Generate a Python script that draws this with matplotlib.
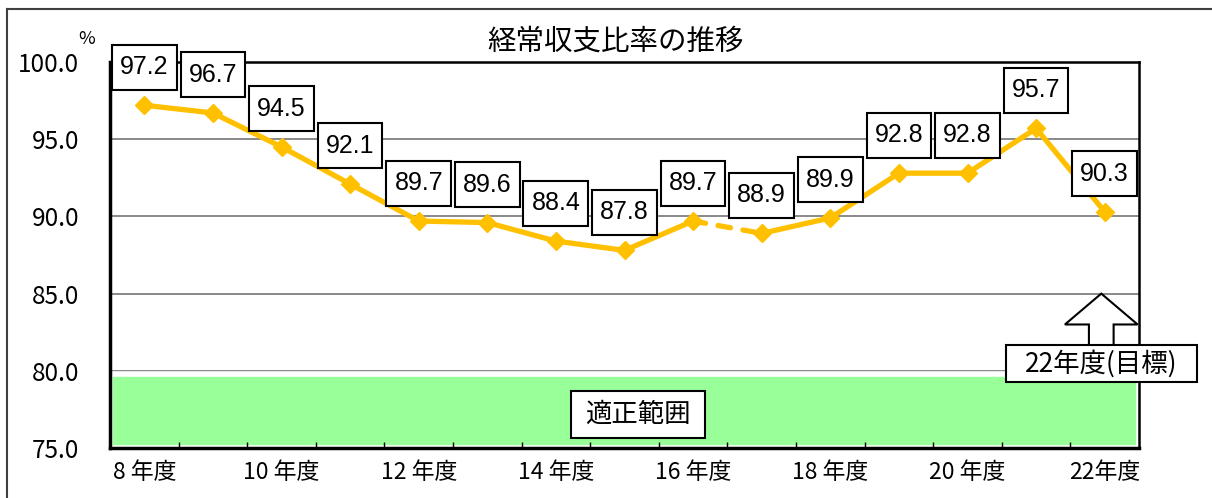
import matplotlib
matplotlib.use("Agg")
import matplotlib.pyplot as plt
from matplotlib.patches import Rectangle, Polygon
from matplotlib.lines import Line2D
from matplotlib.path import Path

plt.rcParams['font.family'] = ['Noto Sans CJK JP', 'DejaVu Sans']

# ---- data ----
years = ["8", "9", "10", "11", "12", "13", "14", "15", "16", "17", "18", "19", "20", "21", "22"]
ratio = [97.2, 96.7, 94.5, 92.1, 89.7, 89.6, 88.4, 87.8, 89.7, 88.9, 89.9, 92.8, 92.8, 95.7, 90.3]
tick_labels = ["8 年度", "10 年度", "12 年度", "14 年度", "16 年度", "18 年度", "20 年度", "22年度"]
yticks = [75.0, 80.0, 85.0, 90.0, 95.0, 100.0]
band_low, band_high = 75.0, 79.8
dashed_segment = (8, 9)   # 16年度 -> 17年度
target_year_index = 14
target_tip = 85.0

title = "経常収支比率の推移"
band_label = "適正範囲"
target_label = "22年度(目標)"


def padded_box(padx, pady):
    def style(x0, y0, width, height, mutation_size):
        px = padx * mutation_size
        py = pady * mutation_size
        xa, ya = x0 - px, y0 - py
        xb, yb = x0 + width + px, y0 + height + py
        return Path([(xa, ya), (xb, ya), (xb, yb), (xa, yb), (xa, ya)], closed=True)
    return style


W, H = 1212, 498
fig = plt.figure(figsize=(W / 100, H / 100), dpi=100)
ax = fig.add_axes([110 / W, 50 / H, 1029 / W, 386 / H])

x = list(range(len(ratio)))
color = "#FFC000"

# green band
ax.add_patch(Rectangle((-0.5, band_low), len(ratio), band_high - band_low,
                       facecolor="#99FF99", edgecolor="white", linewidth=4, zorder=1))

# grid lines
for yv in yticks[1:-1]:
    ax.axhline(yv, color="#808080", linewidth=1.3, zorder=0.5)

# line segments
i0, i1 = dashed_segment
ax.plot(x[:i0 + 1], ratio[:i0 + 1], color=color, linewidth=3.8, zorder=3,
        solid_capstyle="round")
ax.plot(x[i0:i1 + 1], ratio[i0:i1 + 1], color=color, linewidth=3.8, zorder=3,
        linestyle=(0, (2.4, 2.4)), dash_capstyle="round")
ax.plot(x[i1:], ratio[i1:], color=color, linewidth=3.8, zorder=3,
        solid_capstyle="round")
ax.plot(x, ratio, linestyle="none", marker="D", markersize=9, color=color,
        markeredgecolor=color, zorder=4)

# value labels
for xi, v in zip(x, ratio):
    ax.annotate(f"{v:.1f}", (xi, v), xytext=(0, 38), textcoords="offset pixels",
                ha="center", va="center", fontsize=18,
                family=["Liberation Sans", "DejaVu Sans"],
                bbox=dict(boxstyle=padded_box(0.32, 0.42), facecolor="white",
                          edgecolor="black", linewidth=1.5),
                zorder=6, annotation_clip=False)

# band label
ax.text(7.2, 77.17, band_label, ha="center", va="center", fontsize=19,
        bbox=dict(boxstyle=padded_box(0.55, 0.38), facecolor="white",
                  edgecolor="black", linewidth=1.5), zorder=5)

# target arrow (hollow)
tx = target_year_index - 0.05
hw, sw = 0.53, 0.18
head_base, shaft_bot = 83.0, 81.5
arrow = Polygon([(tx, target_tip), (tx + hw, head_base), (tx + sw, head_base),
                 (tx + sw, shaft_bot), (tx - sw, shaft_bot), (tx - sw, head_base),
                 (tx - hw, head_base)], closed=True, facecolor="white",
                edgecolor="black", linewidth=1.5, zorder=6, clip_on=False)
ax.add_patch(arrow)
ax.text(tx, 80.45, target_label, ha="center", va="center", fontsize=19,
        bbox=dict(boxstyle=padded_box(0.72, 0.17), facecolor="white",
                  edgecolor="black", linewidth=1.5), zorder=7, clip_on=False)

# axes setup
ax.set_xlim(-0.5, len(ratio) - 0.5)
ax.set_ylim(75, 100)
ax.set_yticks(yticks)
ax.set_yticklabels([f"{v:.1f}" for v in yticks], fontsize=17.5)
ax.set_xticks(x[::2])
ax.set_xticklabels(tick_labels, fontsize=16.5)
ax.set_xticks([i + 0.5 for i in range(len(ratio) - 1)], minor=True)
ax.tick_params(axis="x", which="major", length=0, pad=9)
ax.tick_params(axis="x", which="minor", direction="in", length=4, width=1)
ax.tick_params(axis="y", length=0, pad=22)
ax.spines["left"].set_linewidth(2.5)
ax.spines["bottom"].set_linewidth(2.5)
ax.spines["top"].set_linewidth(1.8)
ax.spines["right"].set_linewidth(1.8)
for s in ax.spines.values():
    s.set_zorder(5)

# title and unit
fig.text(616 / W, 1 - 42 / H, title, ha="center", va="center", fontsize=20.5)
fig.text(87 / W, 1 - 39 / H, "%", ha="center", va="center", fontsize=13)

# outer frame
fig.add_artist(Line2D([7 / W, 7 / W], [0, 1 - 9 / H], color="#404040", linewidth=1.5))
fig.add_artist(Line2D([7 / W, 1], [1 - 9 / H, 1 - 9 / H], color="#404040", linewidth=1.5))

fig.savefig("out.png", dpi=100)
